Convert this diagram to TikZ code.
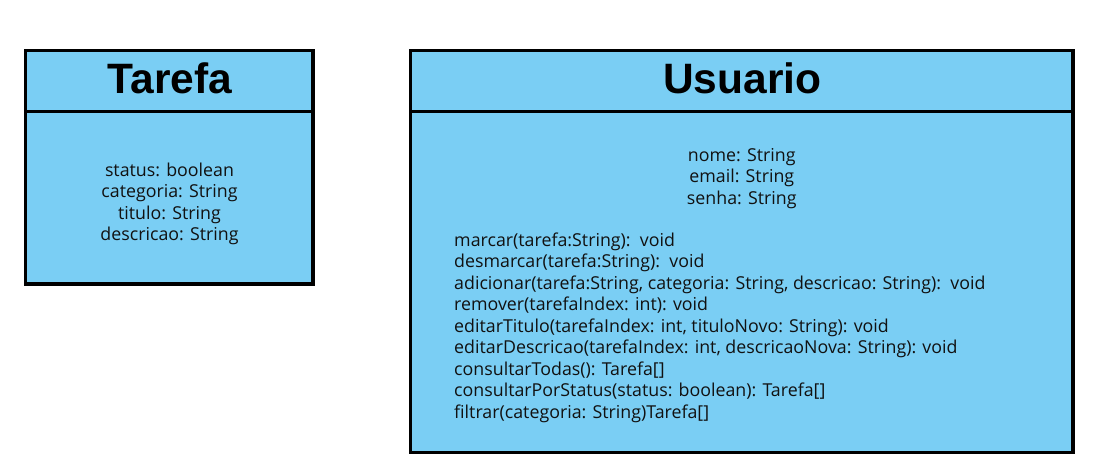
\documentclass[tikz,border=0pt]{standalone}
\usepackage{fontspec}
\setmainfont{Open Sans}
\newfontfamily\titlefont{Liberation Sans}
\definecolor{boxfill}{HTML}{7ACEF4}
\definecolor{textcol}{HTML}{111111}
\begin{document}
\begin{tikzpicture}[x=1pt,y=-1pt,
  classbox/.style={draw=black, line width=3.5pt, fill=boxfill, outer sep=0pt, inner sep=0pt, anchor=north west},
  divider/.style={draw=black, line width=3.5pt},
  classtitle/.style={font=\titlefont\bfseries\fontsize{42.5}{48}\selectfont, anchor=base, inner sep=0pt},
  attr/.style={font=\fontsize{17.8}{21.5}\selectfont, text=textcol, align=center, anchor=base, inner sep=0pt},
  meth/.style={font=\fontsize{17.8}{21.5}\selectfont, text=textcol, align=left, anchor=base west, inner sep=0pt}]
\useasboundingbox (0,0) rectangle (1109,454);
\fill[white] (0,0) rectangle (1109,454);
% Tarefa
\node[classbox, minimum width=287.7pt, minimum height=233.5pt] (tarefa) at (25.3,50.5) {};
\draw[divider] (tarefa.west |- 0,111.5) -- (tarefa.east |- 0,111.5);
\node[classtitle] (tarefaT) at (169.8,94) {Tarefa};
\node[attr] (tarefaA) at (169.5,240.8) {status: boolean\\categoria: String\\titulo: String\\descricao: String};
% Usuario
\node[classbox, minimum width=662.5pt, minimum height=402pt] (usuario) at (410.5,50.5) {};
\draw[divider] (usuario.west |- 0,111.5) -- (usuario.east |- 0,111.5);
\node[classtitle] (usuarioT) at (742.3,94) {Usuario};
\node[attr] (usuarioA) at (741.8,204.3) {nome: String\\email: String\\senha: String};
\node[meth] (usuarioM) at (454,418.3) {marcar(tarefa:String):\ \ void\\desmarcar(tarefa:String):\ \ void\\adicionar(tarefa:String, categoria: String, descricao: String):\ \ void\\remover(tarefaIndex: int): void\\editarTitulo(tarefaIndex: int, tituloNovo: String): void\\editarDescricao(tarefaIndex: int, descricaoNova: String): void\\consultarTodas(): Tarefa[]\\consultarPorStatus(status: boolean): Tarefa[]\\filtrar(categoria: String)Tarefa[]};
\end{tikzpicture}
\end{document}
